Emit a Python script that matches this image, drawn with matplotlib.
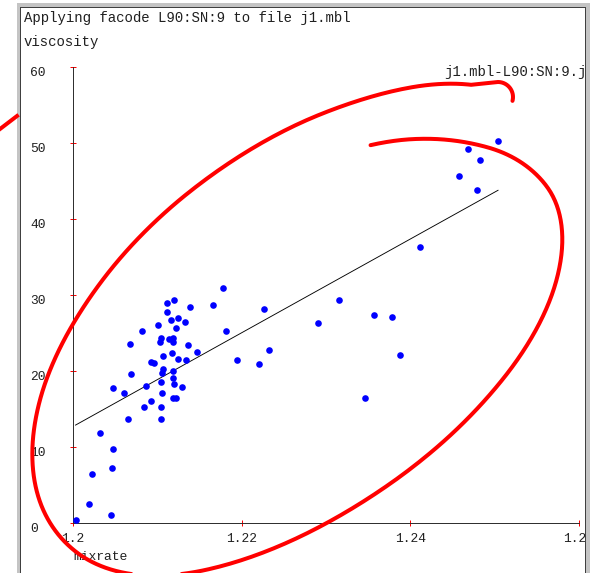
import numpy as np
import matplotlib
matplotlib.use("Agg")
import matplotlib.pyplot as plt
from matplotlib.lines import Line2D
from matplotlib.patches import Rectangle
from matplotlib.transforms import Affine2D, ScaledTranslation

W, H = 596, 573
FONT = "Liberation Mono"

# --- data ---
mixrate = [
    1.2003, 1.2019, 1.2045, 1.2023, 1.2046, 1.2047, 1.2032, 1.2065, 1.2104, 1.2084,
    1.2092, 1.2104, 1.2118, 1.2122, 1.2106, 1.2129, 1.2120, 1.2104, 1.2087, 1.2061,
    1.2047, 1.2069, 1.2118, 1.2107, 1.2119, 1.2106, 1.2093, 1.2096, 1.2107, 1.2125,
    1.2134, 1.2117, 1.2147, 1.2136, 1.2118, 1.2119, 1.2114, 1.2103, 1.2104, 1.2068,
    1.2082, 1.2122, 1.2101, 1.2116, 1.2124, 1.2133, 1.2111, 1.2112, 1.2120, 1.2139,
    1.2166, 1.2178, 1.2182, 1.2194, 1.2220, 1.2226, 1.2233, 1.2290, 1.2315, 1.2357,
    1.2378, 1.2388, 1.2346, 1.2411, 1.2458, 1.2468, 1.2483, 1.2479, 1.2504,
]
viscosity = [
    0.4, 2.5, 1.1, 6.4, 7.2, 9.8, 11.9, 13.7, 13.7, 15.3,
    16.1, 15.3, 16.4, 16.4, 17.1, 17.9, 18.3, 18.5, 18.0, 17.1,
    17.7, 19.6, 19.1, 20.2, 20.0, 19.7, 21.2, 21.1, 22.0, 21.6,
    21.4, 22.4, 22.5, 23.4, 23.8, 24.4, 24.2, 23.8, 24.3, 23.6,
    25.3, 25.7, 26.1, 26.7, 27.0, 26.4, 27.7, 29.0, 29.3, 28.4,
    28.7, 30.9, 25.3, 21.4, 20.9, 28.1, 22.8, 26.3, 29.3, 27.4,
    27.1, 22.1, 16.4, 36.3, 45.7, 49.2, 47.7, 43.8, 50.2,
]

x_ticks = [1.2, 1.22, 1.24, 1.26]
x_labels = ["1.2", "1.22", "1.24", "1.26"]
y_ticks = [0, 10, 20, 30, 40, 50, 60]

title = "Applying facode L90:SN:9 to file j1.mbl"
series_name = "j1.mbl-L90:SN:9.jpg"

fig = plt.figure(figsize=(W / 72, H / 72), dpi=72, facecolor="white")
# screen pixels, origin at top-left like the screenshot
px = Affine2D().scale(1 / W, -1 / H).translate(0, 1) + fig.transFigure

ax = fig.add_axes([73 / W, 1 - 523 / H, 506 / W, 456 / H])
ax.set_xlim(1.2, 1.26)
ax.set_ylim(0, 60)
ax.set_xticks(x_ticks, x_labels)
ax.set_yticks(y_ticks)

ax.scatter(mixrate, viscosity, s=44, c="#0000ff", linewidths=0, clip_on=False, zorder=3)

# least squares line across the data range
coef = np.polyfit(mixrate, viscosity, 1)
xs = np.array([min(mixrate), max(mixrate)])
ax.plot(xs, np.polyval(coef, xs), color="black", lw=0.9, zorder=2)

for side in ["top", "right"]:
    ax.spines[side].set_visible(False)
for side in ["left", "bottom"]:
    ax.spines[side].set_color("#303030")
    ax.spines[side].set_linewidth(1)

ax.tick_params(axis="both", direction="inout", length=6, width=1, color="red",
               labelsize=13, labelfontfamily=FONT, labelcolor="#202020")
ax.tick_params(axis="x", pad=7)
ax.tick_params(axis="y", pad=40)
shift = ScaledTranslation(0, -5 / 72, fig.dpi_scale_trans)
for lbl in ax.get_yticklabels():
    lbl.set_ha("left")
    lbl.set_transform(lbl.get_transform() + shift)

fig.text(24, 18, title, transform=px, fontsize=14, family=FONT, va="center", color="#202020")
fig.text(24, 42, "viscosity", transform=px, fontsize=14, family=FONT, va="center", color="#202020")
fig.text(444, 72, series_name, transform=px, fontsize=14, family=FONT, va="center", color="#202020")
fig.text(73, 557, "mixrate", transform=px, fontsize=13, family=FONT, va="center", color="#202020")

# window frame of the screenshot
for (x0, y0, w, h, col) in [(590, 0, 6, 573, "white"), (0, 0, 596, 3, "white"),
                             (17, 3, 573, 4, "#c4c4c4"), (17, 3, 3, 570, "#c4c4c4"),
                             (585, 3, 5, 570, "#c4c4c4")]:
    fig.add_artist(Rectangle((x0, y0), w, h, transform=px, facecolor=col,
                             edgecolor="none", zorder=10))
fig.add_artist(Line2D([20, 20], [7, 573], transform=px, color="#404040", lw=1, zorder=11))
fig.add_artist(Line2D([20, 585], [7, 7], transform=px, color="#404040", lw=1, zorder=11))
fig.add_artist(Line2D([585, 585], [7, 573], transform=px, color="#404040", lw=1, zorder=11))


def annotation_loop():
    # freehand red loop drawn on top of the screenshot: a drifting tilted ellipse (screen px)
    t_deg = np.linspace(-45, 335, 480)
    knots_t = [-45, -30, -7, 12, 45, 72, 111, 137, 197, 214, 234, 249, 274, 295, 325, 335]
    knots_r = [0.76, 0.74, 0.79, 0.87, 1.05, 1.07, 0.99, 1.0, 0.98, 1.01, 1.03, 1.03, 1.03,
               0.97, 0.975, 0.99]
    r = np.interp(t_deg, knots_t, knots_r)
    # smooth the radius so the stroke has no corners
    r = np.convolve(np.pad(r, 30, mode="edge"), np.ones(61) / 61, mode="valid")
    t = np.radians(t_deg)
    ang = np.radians(41)
    u = np.array([np.cos(ang), -np.sin(ang)])
    v = np.array([np.sin(ang), np.cos(ang)])
    a, b = 323, 173
    pts = np.array([301, 328]) + r[:, None] * (a * np.cos(t)[:, None] * u + b * np.sin(t)[:, None] * v)
    # the pen curls down at the end of the stroke
    th = np.radians(np.linspace(-90, 15, 30))
    hook = np.column_stack([498 + 15 * np.cos(th), 97 + 15 * np.sin(th)])
    pts = np.vstack([pts, hook])
    return pts[:, 0], pts[:, 1]


lx, ly = annotation_loop()
fig.add_artist(Line2D(lx, ly, transform=px, color="#ff0000", lw=4,
                      solid_capstyle="round", solid_joinstyle="round", zorder=20))
fig.add_artist(Line2D([0, 17], [129, 116], transform=px, color="#ff0000", lw=4, zorder=20))

fig.savefig("out.png", dpi=72)
